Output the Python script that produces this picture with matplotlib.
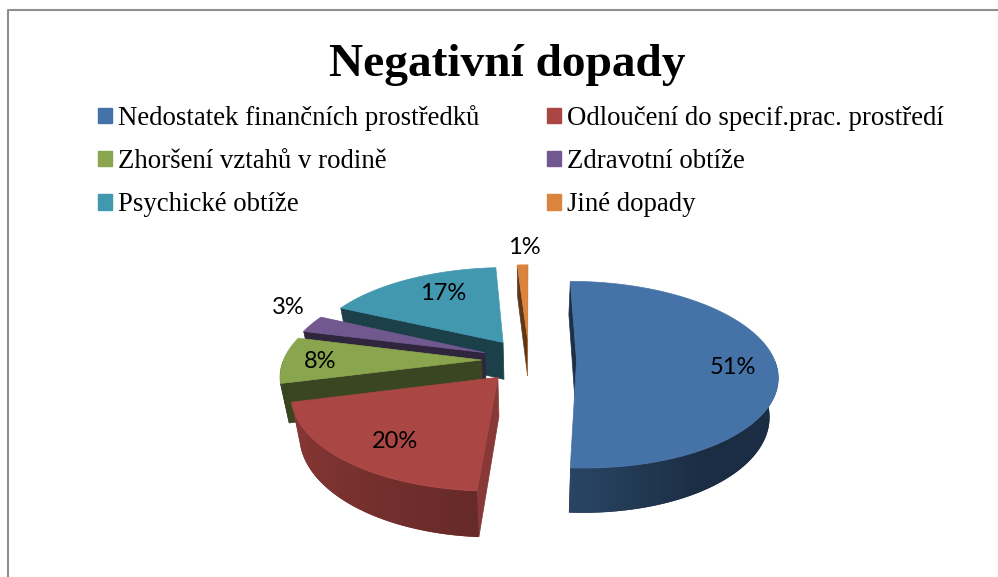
import numpy as np
import matplotlib
matplotlib.use("Agg")
import matplotlib.pyplot as plt
from matplotlib.patches import Patch, Polygon

labels = ["Nedostatek finančních prostředků", "Odloučení do specif.prac. prostředí",
          "Zhoršení vztahů v rodině", "Zdravotní obtíže", "Psychické obtíže", "Jiné dopady"]
values = [51, 20, 8, 3, 17, 1]
colors = ["#4572A7", "#AA4643", "#89A54E", "#71588F", "#4198AF", "#DB843D"]

# label placement, pixels of the picture
label_pos = [(733, 367), (395, 441), (320, 361), (288, 307), (443, 294), (524, 247)]

# projection of the fake 3D pie
CX, CY = 529, 360
RX, RY = 198, 91
PERSP = 0.15
EXPLODE = 0.24
DEPTH = 38
TAPER = 0.035


def project(x, z, down=0.0):
    # x to the right, z towards the viewer, both in pie radii
    x, z = np.asarray(x, float), np.asarray(z, float)
    w = 1 - PERSP * z
    return CX + RX * x / w * (1 - TAPER * down / DEPTH), CY + (RY * z + down) / w


def shade(color, f):
    r, g, b = matplotlib.colors.to_rgb(color)
    return (r * f, g * f, b * f)


def wall_factor(t):
    # outer wall gets lighter from the right of the pie round to the left
    return np.interp(t, [90, 150, 183, 255, 256, 290], [0.40, 0.40, 0.60, 0.82, 0.42, 0.42])


def draw_wall(ax, t, xs, zs, color, z):
    # gradient image clipped to the visible part of the outer wall
    keep = (t >= 90) & (t <= 270)
    if keep.sum() < 2:
        return
    top_x, top_y = project(xs[keep], zs[keep])
    bot_x, bot_y = project(xs[keep], zs[keep], DEPTH)
    pts = np.r_[np.c_[top_x, top_y], np.c_[bot_x, bot_y][::-1]]
    poly = Polygon(pts, closed=True, facecolor=shade(color, float(wall_factor(t[keep]).mean())),
                   edgecolor="none", zorder=z)
    ax.add_patch(poly)

    order = np.argsort(top_x)
    grid = np.linspace(top_x.min(), top_x.max(), 200)
    f = np.interp(grid, top_x[order], wall_factor(t[keep])[order])
    rgb = np.array(matplotlib.colors.to_rgb(color))
    img = (f[:, None] * rgb)[None, :, :]
    extent = (pts[:, 0].min(), pts[:, 0].max(), pts[:, 1].max(), pts[:, 1].min())
    im = ax.imshow(img, extent=extent, aspect="auto", interpolation="bilinear", zorder=z + 0.1)
    im.set_clip_path(poly)


def draw_slice(ax, start, end, color, z):
    mid = np.radians((start + end) / 2)
    ox, oz = EXPLODE * np.sin(mid), -EXPLODE * np.cos(mid)
    t = np.linspace(start, end, max(int(end - start) * 2, 6))
    xs = ox + np.sin(np.radians(t))
    zs = oz - np.cos(np.radians(t))

    # cut faces, only where they turn to the viewer
    for edge, normal in [(0, -90), (-1, 90)]:
        ang = np.radians(t[edge] + normal)
        if -np.cos(ang) < -1e-9:
            continue
        f = 0.8 if np.sin(ang) > 0.6 else 0.42
        ex = [ox, xs[edge], xs[edge], ox]
        ez = [oz, zs[edge], zs[edge], oz]
        px, py = project(ex, ez, np.array([0, 0, DEPTH, DEPTH]))
        ax.fill(px, py, color=shade(color, f), lw=0.5, zorder=z)

    draw_wall(ax, t, xs, zs, color, z + 0.2)

    px, py = project(np.r_[ox, xs], np.r_[oz, zs])
    ax.fill(px, py, color=color, lw=0.5, zorder=z + 0.5)


def main():
    fig = plt.figure(figsize=(9.98, 5.77), dpi=100)
    ax = fig.add_axes([0, 0, 1, 1])
    ax.axis("off")

    # chart frame runs off the right and bottom of the crop
    ax.plot([8, 8, 998], [577, 9.5, 9.5], color="#8f8f8f", lw=1.5)

    edges = np.r_[0, np.cumsum(values)] / sum(values) * 360
    slices = list(zip(edges[:-1], edges[1:], colors))
    # back to front
    for z, i in enumerate([5, 4, 3, 2, 0, 1]):
        draw_slice(ax, *slices[i], z + 2)

    for (x, y), v in zip(label_pos, values):
        ax.text(x, y, f"{v}%", ha="center", va="center", family="Lato", fontsize=17,
                color="black", zorder=20)

    ax.text(507, 64.5, "Negativní dopady", ha="center", va="center", family="Liberation Serif",
            weight="bold", fontsize=34.1, color="black")

    order = [0, 2, 4, 1, 3, 5]
    handles = [Patch(color=colors[i], label=labels[i]) for i in order]
    ax.legend(handles=handles, ncol=2, frameon=False, loc="upper left",
              bbox_to_anchor=(98 / 998, 1 - 105 / 577), borderaxespad=0, borderpad=0,
              prop={"family": "Liberation Serif", "size": 19.25},
              handlelength=0.52, handleheight=0.52, handletextpad=0.225,
              labelspacing=0.68, columnspacing=2.55)

    ax.set_xlim(0, 998)
    ax.set_ylim(577, 0)
    fig.savefig("out.png", dpi=100)


if __name__ == "__main__":
    main()
